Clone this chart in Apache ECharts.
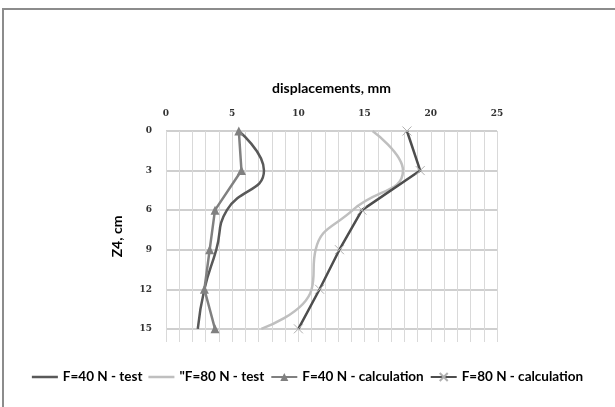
<!DOCTYPE html>
<html><head><meta charset="utf-8">
<script src="https://cdn.jsdelivr.net/npm/echarts@6/dist/echarts.min.js"></script>
<style>html,body{margin:0;padding:0;background:#fff}#c{width:615px;height:407px}</style>
</head><body><div id="c"></div>
<script>
const depths = [0, 3, 6, 9, 12, 15];
const yTicks = [0, 3, 6, 9, 12, 15];
const xTicks = [0, 5, 10, 15, 20, 25];
const f40test = [5.5, 7.4, 4.6, 3.8, 2.9, 2.4];
const f80test = [15.6, 17.9, 14.1, 11.3, 11.0, 7.2];
const f40calc = [5.5, 5.7, 3.7, 3.3, 2.9, 3.7];
const f80calc = [18.2, 19.2, 14.8, 13.1, 11.6, 10.0];
const names = ['F=40 N - test', '"F=80 N - test', 'F=40 N - calculation', 'F=80 N - calculation'];

const pair = arr => arr.map((v, i) => [v, depths[i]]);
const chart = echarts.init(document.getElementById('c'));
const xPath = 'path://M0,0L10,10M10,0L0,10';
const lineIcon = 'path://M0,0L0.01,0L0,0ZM0,3.8L26,3.8L26,6.2L0,6.2ZM0,10L0.01,10L0,10Z';
chart.setOption({
  animation: false,
  backgroundColor: '#fff',
  graphic: [{type: 'rect', shape: {x: 3, y: 9, width: 700, height: 600}, style: {fill: 'none', stroke: '#8c8c8c', lineWidth: 2}, silent: true}],
  grid: {left: 166, top: 131, width: 331, height: 211},
  xAxis: {
    type: 'value', position: 'top', min: 0, max: 25, interval: 5,
    name: 'displacements, mm', nameLocation: 'middle', nameGap: 36,
    nameTextStyle: {fontFamily: 'Lato', fontWeight: 'bold', fontSize: 14, color: '#000'},
    axisLine: {show: false}, axisTick: {show: false},
    axisLabel: {margin: 13, fontFamily: 'DejaVu Serif', fontWeight: 'bold', fontSize: 9, color: '#333'},
    splitLine: {show: true, lineStyle: {color: '#d9d9d9', width: 1}},
    minorTick: {show: false, splitNumber: 5},
    minorSplitLine: {show: true, lineStyle: {color: '#d9d9d9', width: 1}}
  },
  yAxis: {
    type: 'value', inverse: true, min: 0, max: 16, interval: 3,
    name: 'Z4, cm', nameLocation: 'middle', nameGap: 42, nameRotate: 90,
    nameTextStyle: {fontFamily: 'Lato', fontWeight: 'bold', fontSize: 14, color: '#000'},
    axisLine: {show: false}, axisTick: {show: false},
    axisLabel: {margin: 14, fontFamily: 'DejaVu Serif', fontWeight: 'bold', fontSize: 9, color: '#333',
      formatter: v => (yTicks.indexOf(v) >= 0 ? String(v) : '')},
    splitLine: {show: true, lineStyle: {color: ['#bfbfbf','#bfbfbf','#bfbfbf','#bfbfbf','#bfbfbf','#bfbfbf','rgba(0,0,0,0)'], width: 1.5}}
  },
  legend: {
    bottom: 18, left: 'center', itemWidth: 26, itemHeight: 10, itemGap: 6,
    textStyle: {fontFamily: 'Lato', fontWeight: 'bold', fontSize: 13.5, color: '#000'},
    data: [
      {name: names[0], icon: lineIcon},
      {name: names[1], icon: lineIcon},
      {name: names[2]},
      {name: names[3]}
    ]
  },
  series: [
    {name: names[0], type: 'line', smooth: true, symbol: 'none', data: pair(f40test),
      lineStyle: {color: '#595959', width: 2.5}, itemStyle: {color: '#595959'}},
    {name: names[1], type: 'line', smooth: true, symbol: 'none', data: pair(f80test),
      lineStyle: {color: '#bfbfbf', width: 2.5}, itemStyle: {color: '#bfbfbf'}},
    {name: names[2], type: 'line', symbol: 'triangle', symbolSize: 9, data: pair(f40calc),
      lineStyle: {color: '#808080', width: 2.5}, itemStyle: {color: '#808080'}},
    {name: names[3], type: 'line', symbol: xPath, symbolSize: 9, data: pair(f80calc),
      lineStyle: {color: '#4d4d4d', width: 2.5}, itemStyle: {color: 'none', borderColor: '#b0b0b0', borderWidth: 1}}
  ]
});
</script></body></html>
